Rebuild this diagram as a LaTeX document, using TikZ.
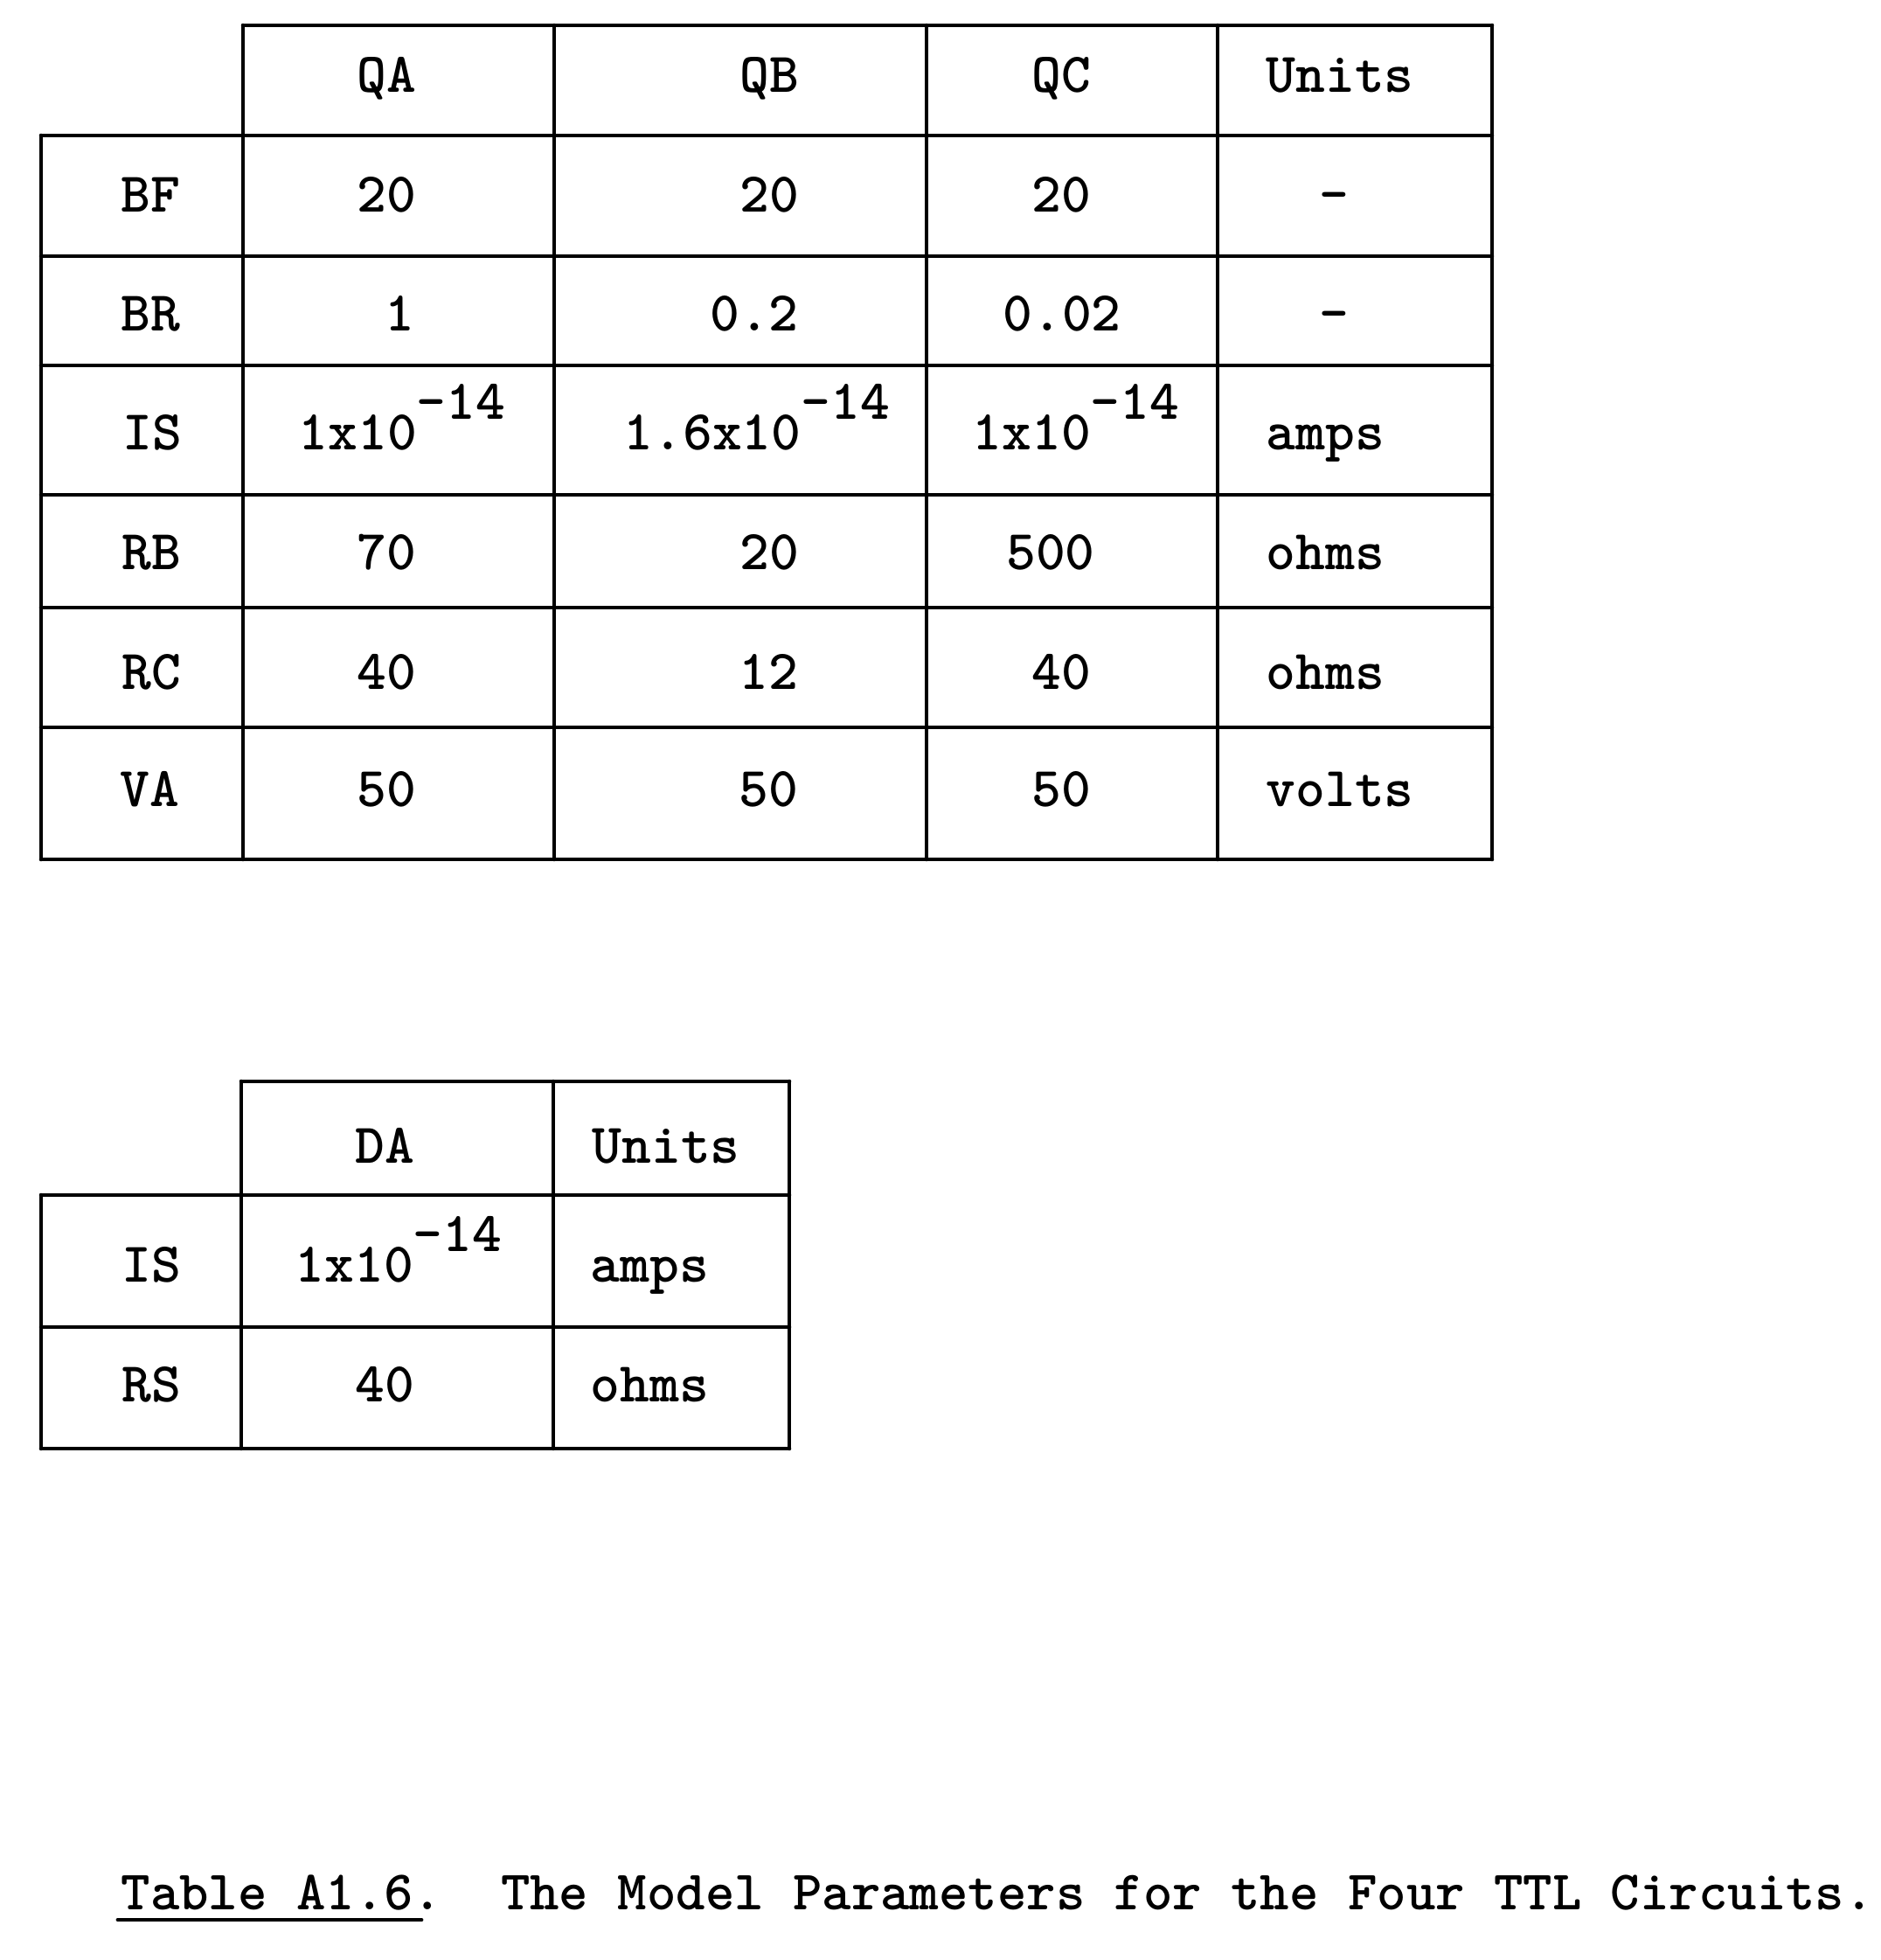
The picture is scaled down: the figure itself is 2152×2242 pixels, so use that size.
\documentclass[tikz,border=0pt]{standalone}
\usepackage{tikz}
\tikzstyle{every node}=[inner sep=0pt,font=\ttf]
\tikzstyle{val}=[anchor=base]
\tikzstyle{unit}=[anchor=base west]
\tikzstyle{rule}=[line width=1.3pt,line cap=round]
\newcommand{\ttf}{\fontsize{18.3}{22}\selectfont\ttfamily\bfseries}
\newcommand{\expo}[1]{\raisebox{0.34cm}{#1}}

\begin{document}
\begin{tikzpicture}[x=0.01cm,y=-0.01cm]
  \useasboundingbox (0,0) rectangle (2152,2242);
  % first table: transistors
  \draw[rule] (278,29) -- (1707,29);
  \draw[rule] (47,155) -- (1707,155);
  \draw[rule] (47,293) -- (1707,293);
  \draw[rule] (47,418) -- (1707,418);
  \draw[rule] (47,566) -- (1707,566);
  \draw[rule] (47,695) -- (1707,695);
  \draw[rule] (47,832) -- (1707,832);
  \draw[rule] (47,983) -- (1707,983);
  \draw[rule] (47,155) -- (47,983);
  \draw[rule] (278,29) -- (278,983);
  \draw[rule] (634,29) -- (634,983);
  \draw[rule] (1060,29) -- (1060,983);
  \draw[rule] (1393,29) -- (1393,983);
  \draw[rule] (1707,29) -- (1707,983);
  \node[val] (qa) at (442,105) {QA};
  \node[val] (qb) at (880,105) {QB};
  \node[val] (qc) at (1214,105) {QC};
  \node[unit] (units) at (1448,105) {Units};
  \node[val] (bf) at (172,242) {BF};
  \node[val] (bfqa) at (442,242) {20};
  \node[val] (bfqb) at (880,242) {20};
  \node[val] (bfqc) at (1214,242) {20};
  \node[val] (bfu) at (1526,242) {-};
  \node[val] (br) at (172,378) {BR};
  \node[val] (brqa) at (457,378) {1};
  \node[val] (brqb) at (863,378) {0.2};
  \node[val] (brqc) at (1215,378) {0.02};
  \node[val] (bru) at (1526,378) {-};
  \node[val] (is) at (174,514) {IS};
  \node[unit] (isqa) at (341,514) {1x10\expo{-14}};
  \node[unit] (isqb) at (713,514) {1.6x10\expo{-14}};
  \node[unit] (isqc) at (1112,514) {1x10\expo{-14}};
  \node[unit] (isu) at (1448,514) {amps};
  \node[val] (rb) at (173,651) {RB};
  \node[val] (rbqa) at (442,651) {70};
  \node[val] (rbqb) at (880,651) {20};
  \node[val] (rbqc) at (1202,651) {500};
  \node[unit] (rbu) at (1448,651) {ohms};
  \node[val] (rc) at (173,788) {RC};
  \node[val] (rcqa) at (442,788) {40};
  \node[val] (rcqb) at (879,788) {12};
  \node[val] (rcqc) at (1214,788) {40};
  \node[unit] (rcu) at (1448,788) {ohms};
  \node[val] (va) at (171,922) {VA};
  \node[val] (vaqa) at (442,922) {50};
  \node[val] (vaqb) at (879,922) {50};
  \node[val] (vaqc) at (1214,922) {50};
  \node[unit] (vau) at (1448,922) {volts};
  % second table: diode
  \draw[rule] (276,1237) -- (903,1237);
  \draw[rule] (47,1367) -- (903,1367);
  \draw[rule] (47,1518) -- (903,1518);
  \draw[rule] (47,1657) -- (903,1657);
  \draw[rule] (47,1367) -- (47,1657);
  \draw[rule] (276,1237) -- (276,1657);
  \draw[rule] (633,1237) -- (633,1657);
  \draw[rule] (903,1237) -- (903,1657);
  \node[val] (da) at (440,1330) {DA};
  \node[unit] (dunits) at (677,1330) {Units};
  \node[val] (dis) at (173,1466) {IS};
  \node[unit] (disda) at (337,1466) {1x10\expo{-14}};
  \node[unit] (disu) at (675,1466) {amps};
  \node[val] (drs) at (173,1603) {RS};
  \node[val] (drsda) at (440,1603) {40};
  \node[unit] (drsu) at (675,1603) {ohms};
  % caption
  \node[unit,font=\fontsize{18.1}{22}\selectfont\ttfamily\bfseries] (caption) at (138,2184)
    {Table A1.6.\ \ The Model Parameters for the Four TTL Circuits.};
  \draw[rule,line width=1.4pt] (135,2196) -- (482,2196);
\end{tikzpicture}
\end{document}
